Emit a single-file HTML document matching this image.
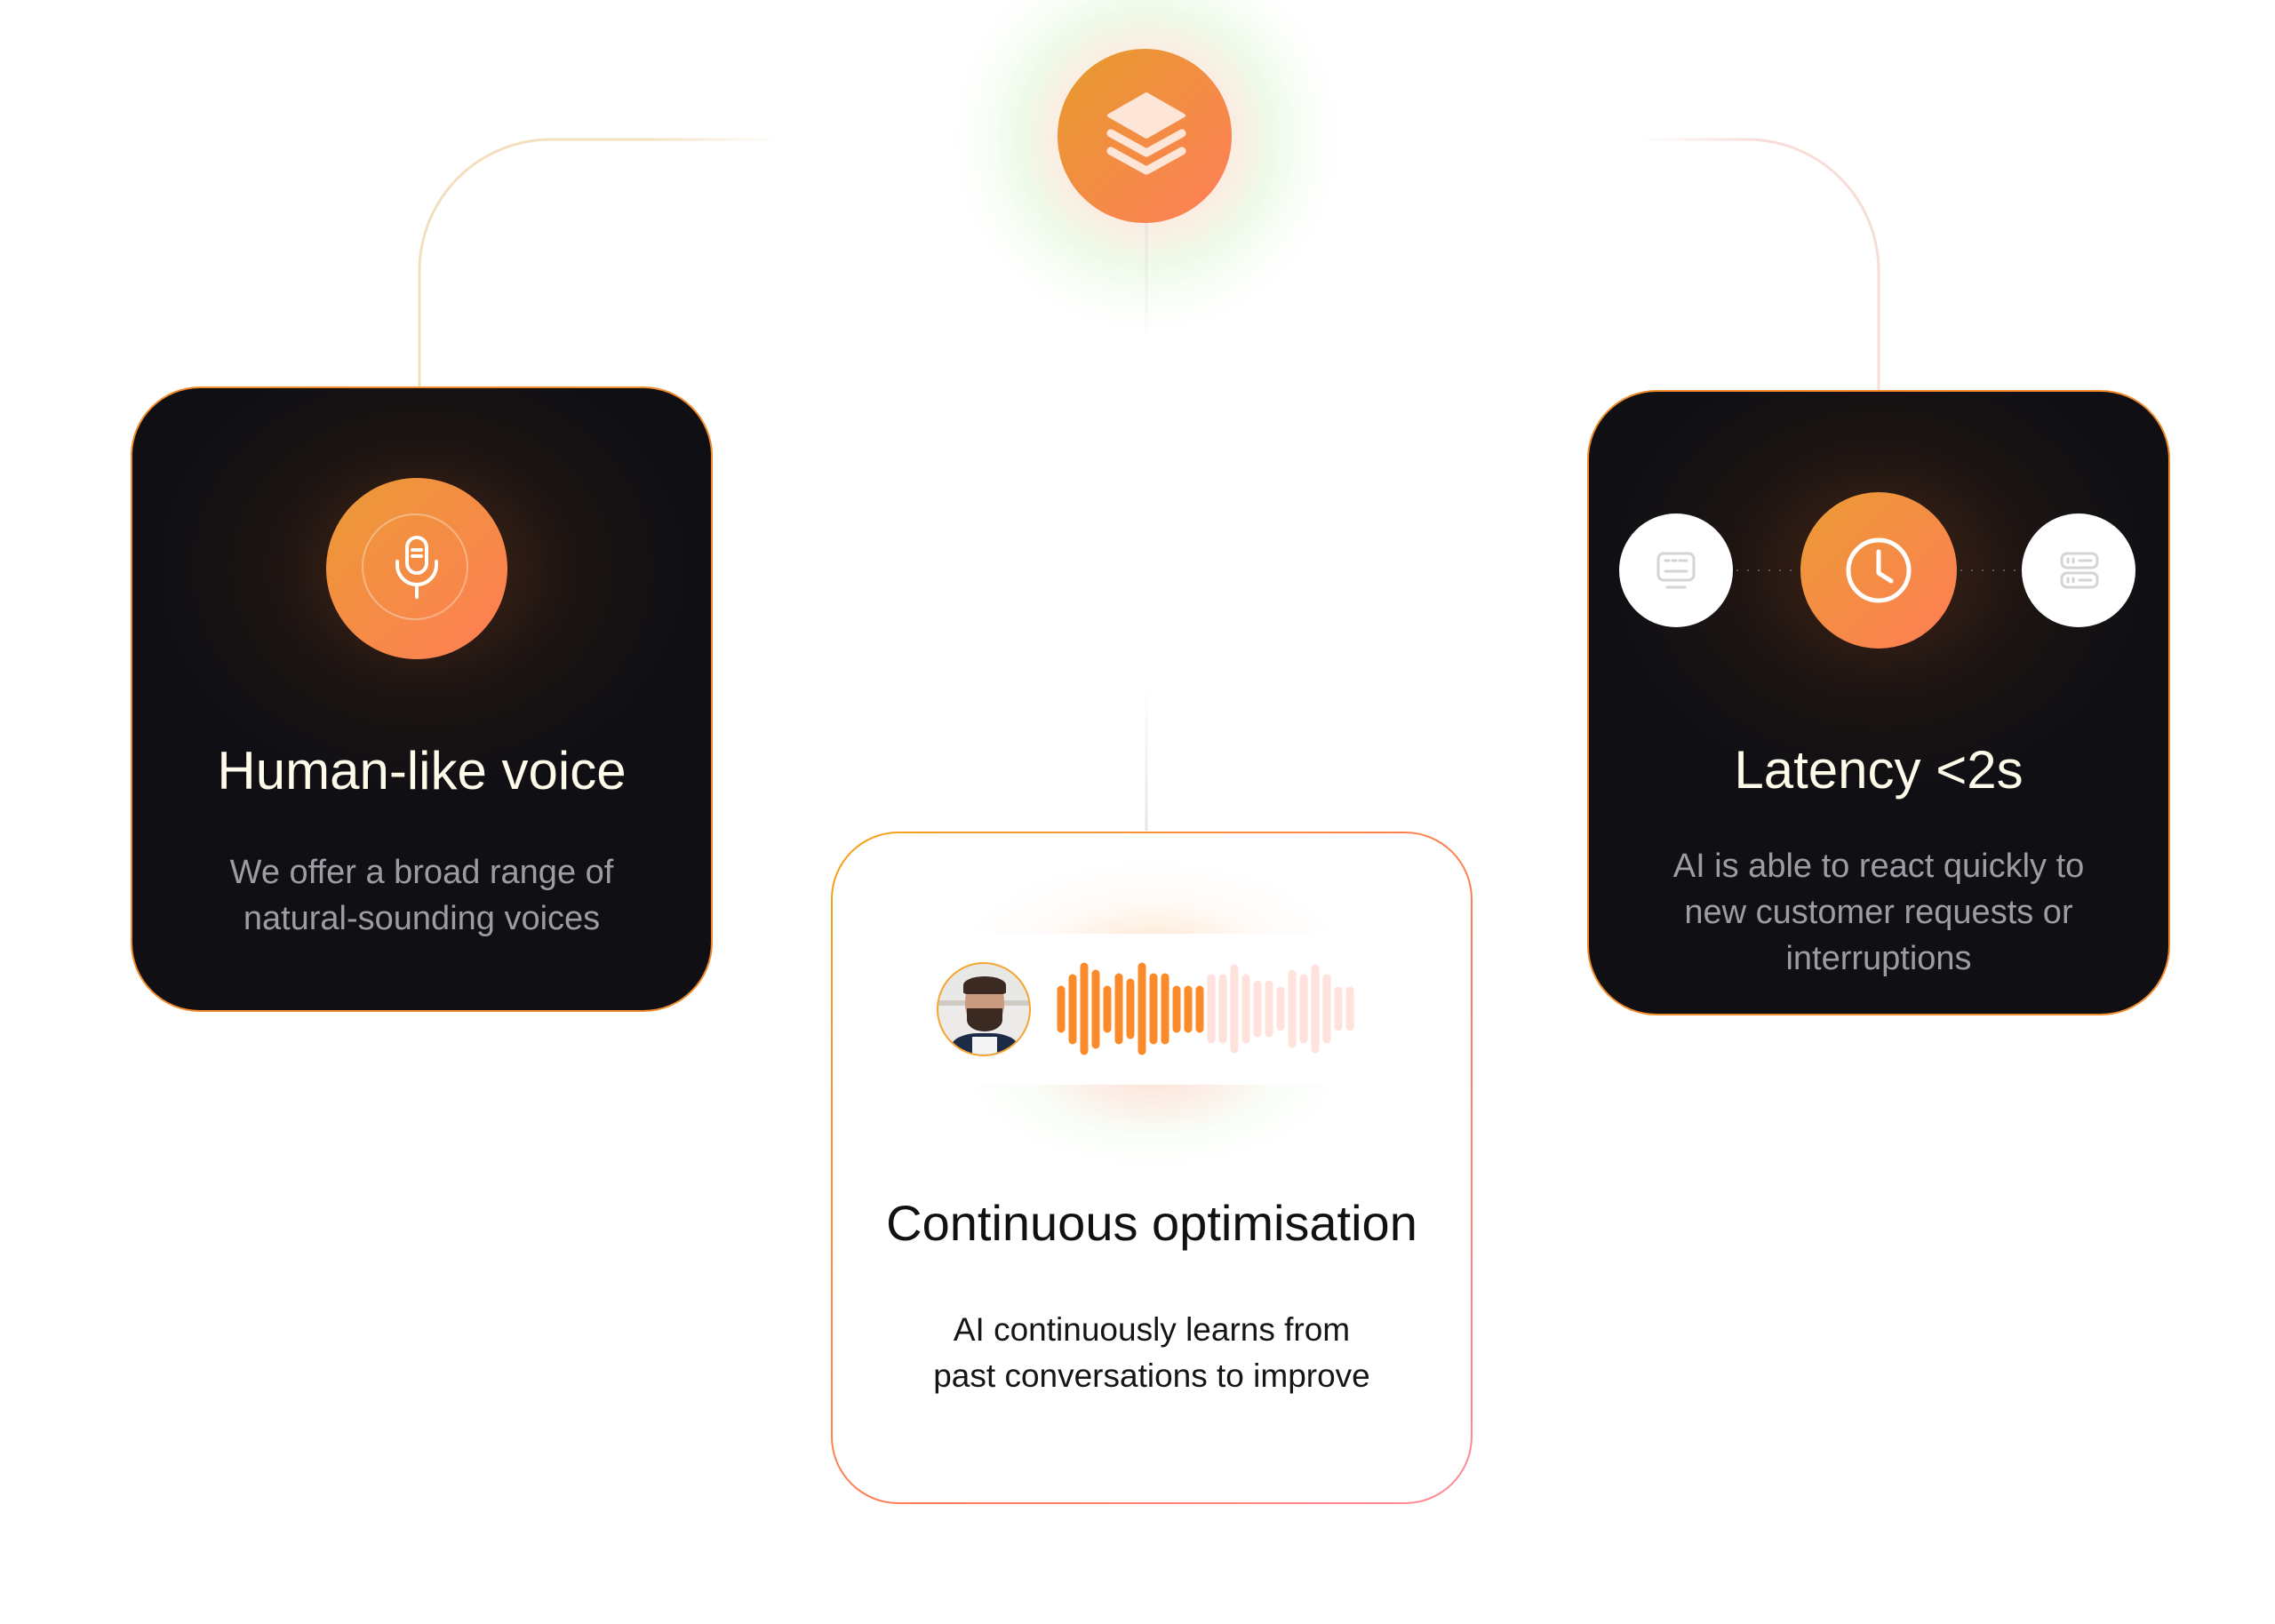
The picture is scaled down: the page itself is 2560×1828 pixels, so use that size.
<!DOCTYPE html>
<html><head><meta charset="utf-8"><style>
html,body{margin:0;padding:0;background:#fff;}
body{width:2560px;height:1828px;position:relative;overflow:hidden;font-family:"Liberation Sans",sans-serif;}
.abs{position:absolute;}
.card{position:absolute;border-radius:76px;overflow:hidden;}
.dark{background:#101014;box-shadow:0 0 0 2px #f08a2a;}
.t{position:absolute;left:0;right:0;text-align:center;white-space:nowrap;}
</style></head><body>

<svg class="abs" style="left:0;top:0" width="2560" height="1828">
<defs>
<linearGradient id="fl" x1="472" y1="0" x2="880" y2="0" gradientUnits="userSpaceOnUse">
<stop offset="0.6" stop-color="#f3dfbd"/><stop offset="1" stop-color="#f3dfbd" stop-opacity="0"/></linearGradient>
<linearGradient id="fr" x1="2114" y1="0" x2="1840" y2="0" gradientUnits="userSpaceOnUse">
<stop offset="0.5" stop-color="#f7ddd8"/><stop offset="1" stop-color="#f7ddd8" stop-opacity="0"/></linearGradient>
<linearGradient id="vl" x1="0" y1="250" x2="0" y2="380" gradientUnits="userSpaceOnUse">
<stop offset="0" stop-color="#e6e6e6"/><stop offset="1" stop-color="#e6e6e6" stop-opacity="0"/></linearGradient>
<linearGradient id="vl2" x1="0" y1="935" x2="0" y2="770" gradientUnits="userSpaceOnUse">
<stop offset="0" stop-color="#e6e6e6"/><stop offset="1" stop-color="#e6e6e6" stop-opacity="0"/></linearGradient>
<radialGradient id="glow" cx="0.5" cy="0.5" r="0.5">
<stop offset="0.35" stop-color="#ffe9e0"/><stop offset="0.6" stop-color="#eefbe9"/><stop offset="1" stop-color="#ffffff" stop-opacity="0"/></radialGradient>
</defs>
<circle cx="1290" cy="155" r="240" fill="url(#glow)"/>
<path d="M472 436 V305 A148 148 0 0 1 620 157 H880" fill="none" stroke="url(#fl)" stroke-width="3"/>
<path d="M2114 440 V305 A148 148 0 0 0 1966 157 H1840" fill="none" stroke="url(#fr)" stroke-width="3"/>
<line x1="1290" y1="250" x2="1290" y2="380" stroke="url(#vl)" stroke-width="3"/>
<line x1="1290" y1="770" x2="1290" y2="935" stroke="url(#vl2)" stroke-width="3"/>
</svg>

<div class="abs" style="left:1190px;top:55px;width:196px;height:196px;border-radius:50%;background:linear-gradient(135deg,#e69a2c,#ff7f5a);"></div>
<svg class="abs" style="left:1240px;top:100px" width="100" height="100" viewBox="0 0 100 100">
<path d="M50 6 L92 30 L50 54 L8 30 Z" fill="#fde6d8" stroke="#fde6d8" stroke-width="4" stroke-linejoin="round"/>
<path d="M10 50 L50 72 L90 50" fill="none" stroke="#fde6d8" stroke-width="9" stroke-linecap="round" stroke-linejoin="round"/>
<path d="M10 70 L50 92 L90 70" fill="none" stroke="#fde6d8" stroke-width="9" stroke-linecap="round" stroke-linejoin="round"/>
</svg>

<!-- left card -->
<div class="card dark" style="left:149px;top:437px;width:651px;height:700px;">
<div class="abs" style="left:26px;top:-47px;width:600px;height:500px;border-radius:50%;background:radial-gradient(closest-side,rgba(120,60,20,0.55),rgba(60,30,15,0.3) 55%,rgba(16,16,20,0) 100%);"></div>
<div class="abs" style="left:218px;top:101px;width:204px;height:204px;border-radius:50%;background:linear-gradient(135deg,#eb9a35,#ff7e55);"></div>
<div class="abs" style="left:258px;top:141px;width:120px;height:120px;border-radius:50%;border:2px solid rgba(255,255,255,0.35);box-sizing:border-box;"></div>
<svg class="abs" style="left:284px;top:165px" width="72" height="72" viewBox="0 0 72 72">
<rect x="25" y="3" width="22" height="40" rx="11" fill="none" stroke="#fff" stroke-width="4"/>
<path d="M31 17 H41 M31 24 H41" stroke="#fff" stroke-width="4" stroke-linecap="round"/>
<path d="M14 30 V34 A22 22 0 0 0 58 34 V30" fill="none" stroke="#fff" stroke-width="4" stroke-linecap="round"/>
<path d="M36 56 V70" stroke="#fff" stroke-width="4" stroke-linecap="round"/>
</svg>
<div class="t" style="top:396px;font-size:60px;color:#fffbea;line-height:70px;">Human-like voice</div>
<div class="t" style="top:519px;font-size:38px;color:#9c9ca4;line-height:52px;">We offer a broad range of<br>natural-sounding voices</div>
</div>

<!-- right card -->
<div class="card dark" style="left:1788px;top:441px;width:652px;height:700px;">
<div class="abs" style="left:26px;top:-50px;width:600px;height:500px;border-radius:50%;background:radial-gradient(closest-side,rgba(120,60,20,0.5),rgba(60,30,15,0.3) 55%,rgba(16,16,20,0) 100%);"></div>
<div class="abs" style="left:34px;top:137px;width:128px;height:128px;border-radius:50%;background:#fff;"></div>
<div class="abs" style="left:487px;top:137px;width:128px;height:128px;border-radius:50%;background:#fff;"></div>
<div class="abs" style="left:238px;top:113px;width:176px;height:176px;border-radius:50%;background:linear-gradient(135deg,#eb9a35,#ff7e55);"></div>
<svg class="abs" style="left:0;top:0" width="652" height="400">
<line x1="166" y1="201" x2="233" y2="201" stroke="#555" stroke-width="2" stroke-dasharray="2 10"/>
<line x1="418" y1="201" x2="484" y2="201" stroke="#555" stroke-width="2" stroke-dasharray="2 10"/>
<circle cx="326" cy="201" r="34" fill="none" stroke="#fff" stroke-width="5"/>
<path d="M326 180 V204 L340 213" fill="none" stroke="#fff" stroke-width="5" stroke-linecap="round" stroke-linejoin="round"/>
<rect x="78" y="182" width="40" height="30" rx="6" fill="none" stroke="#d4d4d6" stroke-width="3"/>
<path d="M86 190 H90 M94 190 H98 M102 190 H110 M86 202 H110 M88 220 H108" stroke="#d4d4d6" stroke-width="3" stroke-linecap="round"/>
<rect x="532" y="182" width="40" height="16" rx="6" fill="none" stroke="#d4d4d6" stroke-width="3"/>
<rect x="532" y="204" width="40" height="16" rx="6" fill="none" stroke="#d4d4d6" stroke-width="3"/>
<path d="M539 188 V192 M545 188 V192 M552 190 H565 M539 210 V214 M545 210 V214 M552 212 H565" stroke="#d4d4d6" stroke-width="3" stroke-linecap="round"/>
</svg>
<div class="t" style="top:391px;font-size:60px;color:#fffbea;line-height:70px;">Latency &lt;2s</div>
<div class="t" style="top:508px;font-size:38px;color:#9c9ca4;line-height:52px;">AI is able to react quickly to<br>new customer requests or<br>interruptions</div>
</div>

<!-- middle card -->
<div class="card" style="left:935px;top:936px;width:722px;height:757px;background:linear-gradient(135deg,#f7a21b,#ff7a5c 60%,#ff8a9a);">
<div class="abs" style="left:2px;top:2px;right:2px;bottom:2px;border-radius:74px;background:#fff;overflow:hidden;">
<div class="abs" style="left:140px;top:30px;width:440px;height:240px;border-radius:50%;background:radial-gradient(closest-side,rgba(255,200,150,0.55),rgba(255,230,210,0.2) 60%,rgba(255,255,255,0));"></div>
<div class="abs" style="left:140px;top:150px;width:440px;height:230px;border-radius:50%;background:radial-gradient(closest-side,rgba(255,190,170,0.5),rgba(235,250,230,0.3) 65%,rgba(255,255,255,0));"></div>
<div class="abs" style="left:100px;top:113px;width:520px;height:170px;background:linear-gradient(90deg,rgba(255,255,255,0),#fff 15%,#fff 85%,rgba(255,255,255,0));"></div>
<div class="abs" style="left:117px;top:145px;width:106px;height:106px;border-radius:50%;border:2px solid #f6a531;box-sizing:border-box;overflow:hidden;background:linear-gradient(#e8e8e6 0 40%,#cfcac4 40% 46%,#ecebea 46%);">
<div class="abs" style="left:30px;top:18px;width:44px;height:52px;border-radius:45%;background:#c99a7e;"></div>
<div class="abs" style="left:28px;top:14px;width:48px;height:20px;border-radius:50% 50% 10% 10%;background:#3b2a22;"></div>
<div class="abs" style="left:32px;top:50px;width:40px;height:26px;border-radius:0 0 50% 50%;background:#3a2a22;"></div>
<div class="abs" style="left:14px;top:78px;width:76px;height:40px;border-radius:40% 40% 0 0;background:#1e2b46;"></div>
<div class="abs" style="left:38px;top:82px;width:28px;height:30px;background:#f4f4f4;"></div>
</div>
<svg class="abs" style="left:0;top:0" width="718" height="400">
<g stroke-linecap="round" stroke-width="9">
<g stroke="#fb8a2a">
<line x1="257" y1="176" x2="257" y2="220"/><line x1="270" y1="163" x2="270" y2="233"/>
<line x1="283" y1="150" x2="283" y2="245"/><line x1="296" y1="158" x2="296" y2="238"/>
<line x1="309" y1="176" x2="309" y2="220"/><line x1="322" y1="162" x2="322" y2="233"/>
<line x1="335" y1="168" x2="335" y2="227"/><line x1="348" y1="150" x2="348" y2="245"/>
<line x1="361" y1="162" x2="361" y2="233"/><line x1="374" y1="162" x2="374" y2="233"/>
<line x1="387" y1="176" x2="387" y2="220"/><line x1="400" y1="176" x2="400" y2="220"/>
<line x1="413" y1="176" x2="413" y2="220"/>
</g>
<g stroke="#ffe2dc">
<line x1="426" y1="163" x2="426" y2="232"/><line x1="439" y1="163" x2="439" y2="232"/>
<line x1="452" y1="152" x2="452" y2="243"/><line x1="465" y1="163" x2="465" y2="232"/>
<line x1="478" y1="170" x2="478" y2="225"/><line x1="491" y1="170" x2="491" y2="225"/>
<line x1="504" y1="177" x2="504" y2="218"/><line x1="517" y1="158" x2="517" y2="237"/>
<line x1="530" y1="163" x2="530" y2="232"/><line x1="543" y1="152" x2="543" y2="243"/>
<line x1="556" y1="163" x2="556" y2="232"/><line x1="569" y1="177" x2="569" y2="218"/>
<line x1="582" y1="177" x2="582" y2="218"/>
</g></g></svg>
<div class="t" style="top:404px;font-size:56px;color:#111;line-height:70px;">Continuous optimisation</div>
<div class="t" style="top:533px;font-size:37px;color:#151515;line-height:52px;">AI continuously learns from<br>past conversations to improve</div>
</div>
</div>

</body></html>
